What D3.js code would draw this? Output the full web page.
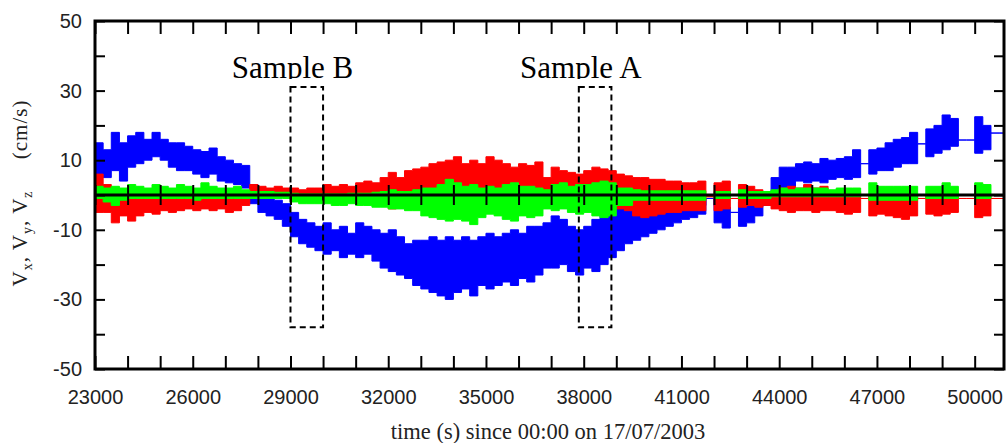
<!DOCTYPE html>
<html>
<head>
<meta charset="utf-8">
<script src="https://cdn.jsdelivr.net/npm/d3@7"></script>
<style>
  html, body { margin: 0; padding: 0; background: #fff; }
  svg { display: block; }
</style>
</head>
<body>
<svg id="chart" width="1007" height="443"></svg>
<script>
// ---- data (envelopes, 250 s bins) ----
const times = [
  23000,23250,23500,23750,24000,24250,24500,24750,25000,25250,25500,25750,26000,26250,26500,26750,
  27000,27250,27500,27750,28000,28250,28500,28750,29000,29250,29500,29750,30000,30250,30500,30750,
  31000,31250,31500,31750,32000,32250,32500,32750,33000,33250,33500,33750,34000,34250,34500,34750,
  35000,35250,35500,35750,36000,36250,36500,36750,37000,37250,37500,37750,38000,38250,38500,38750,
  39000,39250,39500,39750,40000,40250,40500,40750,41000,41250,41500,41750,42000,42250,42500,42750,
  43000,43250,43500,43750,44000,44250,44500,44750,45000,45250,45500,45750,46000,46250,46500,46750,
  47000,47250,47500,47750,48000,48250,48500,48750,49000,49250,49500,49750,50000,50250,50500,50750
];
const endTime = 50900;

// blue
const blueHi = [
  15,13,18,15,17,18,16,18,16,15,15,14,13,12.5,13.5,11,
  10,9,8.5,3,0,-1,-1.5,-2.5,-5,-7,-8,-9,-8,-10,-9,-11,
  -8,-9,-10,-11,-10,-12,-14,-13,-13,-12,-13,-12,-13,-12,-13,-12,
  -11,-12,-11,-10,-11,-9,-9,-8,-6,-7,-9,-10,-9,-7,-6,-4,
  -3.5,-3,-4,-4.5,-4,-4,-4,-3.5,-3.5,-3,-3,-1,-3,-3.5,-5,-2,
  -2.5,-2,1,5,8,8,9,9.5,9,10.5,10,10.5,11,13,9,13,
  13.5,15,16,16.5,18,14.7,19,20,23,22,15.8,15.8,22.5,20,17.8,17.8
];
const blueLo = [
  6,5,7,4,8,9,10,11,10,8,7,7,6,5,6,4,
  3.5,3,2,-2.5,-5,-6,-7,-9,-12,-14,-15,-16,-17,-16,-18,-17,
  -18,-17,-19,-21,-22,-23,-24,-26,-27,-28,-29,-30,-28,-27,-29,-26,
  -27,-26,-25,-26,-24,-25,-23,-21,-21,-20,-22,-23,-21,-22,-20,-18,
  -16,-14,-13,-12,-11,-10,-9,-8,-7,-6.5,-5.5,-1,-8,-9.5,-5,-9,
  -8,-6,-3,-1,1.5,2.5,4,3.5,4,3.5,4.5,5,4.5,5,9,6,
  7,7,8,9,9,14.7,11,12,13,14,15.8,15.8,12,13,17.8,17.8
];

// red
const redHi = [
  6,3,1,0.5,0,-0.5,-0.5,-0.5,-0.5,-0.5,-0.5,-0.5,-0.5,-0.5,-0.5,-0.5,
  -0.5,-0.5,1,3,2.5,2,2.5,2,2,1.5,2,2,3,2.5,3,2.5,
  3.5,4,3.5,5,6.5,5,7,7.5,8,9,9.5,10,11,9,10,9,
  11,10,9,8,9,8.5,9.5,5,8,7,6.5,6,7,8,7.5,7,
  6,5.5,5,5,4.5,4.5,4,4,3.5,3.5,4,-0.5,3.5,4,-1,3,
  2.5,1.5,1,1,2,2.5,2,3,2,2.5,1,1.5,1,1,-1,0,
  0,0,0,0,0,-1,0,0,0,0,-1,-1,0,0,-1,-1
];
const redLo = [
  -5,-5,-8,-6,-7.5,-6,-5,-5.5,-4.5,-5,-4.5,-4,-4.5,-4,-4.5,-4,
  -5,-4.5,-3,-1,-0.5,0,0,0,0,0,0,-0.5,-0.5,-0.5,-0.5,-0.5,
  -0.5,-0.5,-1,-1,-4,-1,-0.5,-0.5,-0.5,-0.5,-0.5,-0.5,-0.5,-1,-0.5,-0.5,
  -0.5,-0.5,-0.5,-0.5,-0.5,-0.5,-0.5,-0.5,-0.5,-0.5,-0.5,-0.5,-0.5,-0.5,-1,-2,
  -4,-4.5,-6,-6.5,-6,-5.5,-5,-5,-4.5,-4.5,-4.5,-0.5,-4.5,-4,-1,-3.5,
  -3,-3.5,-3,-4,-4.5,-5,-4.5,-4.5,-5,-4.5,-4.5,-5,-5.5,-5,-1,-6,
  -5.5,-6,-6.5,-7,-6,-1,-5.5,-6,-5.5,-5,-1,-1,-6.5,-6,-1,-1
];

// green
const greenHi = [
  2.5,2,2.5,2,3,2.5,2,3,2.5,2,3,2.5,2,3.5,2.5,2,
  2,2.5,1.5,1,1,1,0.8,0.8,0.5,0.3,0.3,0.3,0.3,0.3,0.3,0.5,
  0.5,0.5,0.8,1,1.5,1,1,1.5,2,2,3,4.5,3.5,2.5,3,2,
  2.5,2,3,3.5,2.5,2.5,2,1.5,3,3.5,2.5,3,3,3.5,4,3.5,
  2,2,1.5,1.2,1.2,1.2,1.2,1.2,1.2,1.2,1.2,0,1,1,0,1.5,
  1,1,1,1.5,2,1.5,2,2,2,2,1.5,2,2,2,0,3.5,
  2.5,2.5,2.5,2.5,2.5,0,2.5,2.5,3.5,2.5,0,0,3.5,3,0,0
];
const greenLo = [
  -1,-2,-3,-1.5,-1,-1,-1,-1,-1,-1,-1,-1,-1.5,-1,-1,-1,
  -1,-1,-1,-1,-1,-1,-1,-1,-2,-2.5,-2.5,-2.5,-2.5,-3,-3,-2.5,
  -3,-3,-3.5,-3.5,-4,-4,-4.5,-4.5,-6,-6.5,-7,-7.5,-7,-7.5,-8.5,-6.5,
  -5.5,-6,-7,-7.5,-6,-6.5,-6,-4,-4.5,-4,-5,-5.5,-5,-6,-6.5,-6,
  -3,-3,-1.5,-1.5,-1.5,-1.5,-1.5,-1.5,-1.5,-1.5,-1.5,0,-1,-1,0,-1,
  -1,-1,-1,-0.5,-0.5,-0.5,-0.5,-0.5,-0.5,-0.5,-0.5,-0.5,-0.5,-0.5,0,-1.5,
  -1.5,-1.5,-1.5,-1.5,-1.5,0,-1,-1,-1,-1,0,0,-1,-1,0,0
];

// axes / ticks / annotations
const xTicks = [23000,24000,25000,26000,27000,28000,29000,30000,31000,32000,33000,34000,35000,36000,37000,
  38000,39000,40000,41000,42000,43000,44000,45000,46000,47000,48000,49000,50000];
const xTickLabels = [23000,26000,29000,32000,35000,38000,41000,44000,47000,50000];
const yTicks = [-50,-40,-30,-20,-10,0,10,20,30,40,50];
const yTickLabels = [-50,-30,-10,10,30,50];
const samples = [
  {label: "Sample B", t0: 29000, t1: 30000, v0: -38, v1: 31},
  {label: "Sample A", t0: 37850, t1: 38850, v0: -38, v1: 31}
];
const xTitle = "time (s) since 00:00 on 17/07/2003";
const yTitleParts = [["V", false], ["x", true], [", V", false], ["y", true], [", V", false], ["z", true], ["     (cm/s)", false]];

// ---- drawing ----
const svg = d3.select("#chart");
const L = 95, R = 1004, T = 21, B = 369;
const x = d3.scaleLinear().domain([23000, endTime]).range([L, R]);
const y = d3.scaleLinear().domain([-50, 50]).range([B, T]);

const defs = svg.append("defs");
defs.append("clipPath").attr("id", "plotclip")
  .append("rect").attr("x", L).attr("y", T).attr("width", R - L).attr("height", B - T);
defs.append("clipPath").attr("id", "textclip")
  .append("rect").attr("x", 0).attr("y", 0).attr("width", 1007).attr("height", 79);

function series(hi, lo) {
  const pts = times.map((t, i) => ({t, hi: hi[i], lo: lo[i]}));
  const last = pts[pts.length - 1];
  pts.push({t: endTime, hi: last.hi, lo: last.lo});
  return pts;
}
const area = d3.area()
  .x(d => x(d.t)).y0(d => y(d.lo)).y1(d => y(d.hi))
  .curve(d3.curveStepAfter);

const plot = svg.append("g").attr("clip-path", "url(#plotclip)");
[[blueHi, blueLo, "#0000ff"], [redHi, redLo, "#ff0000"], [greenHi, greenLo, "#00ff00"]]
  .forEach(([hi, lo, c]) => {
    plot.append("path").datum(series(hi, lo))
      .attr("d", area).attr("fill", c).attr("stroke", c).attr("stroke-width", 1);
  });

// zero line with crossing ticks
const zeroAxis = d3.axisBottom(x).tickValues(xTicks).tickSizeInner(20).tickSizeOuter(0).tickFormat("");
const zg = svg.append("g").attr("transform", `translate(0,${y(0) - 10})`).call(zeroAxis);
zg.select(".domain").remove();
zg.selectAll(".tick line").attr("stroke", "#000").attr("stroke-width", 2);
svg.append("line").attr("x1", L).attr("x2", R).attr("y1", y(0)).attr("y2", y(0))
  .attr("stroke", "#000").attr("stroke-width", 3);

// axes
const fontTick = "'Liberation Sans', Arial, sans-serif";
const gl = svg.append("g").attr("transform", `translate(${L},0)`)
  .call(d3.axisLeft(y).tickValues(yTicks).tickSizeInner(-10).tickSizeOuter(0).tickPadding(13)
    .tickFormat(d => yTickLabels.includes(d) ? d : ""));
const gr = svg.append("g").attr("transform", `translate(${R},0)`)
  .call(d3.axisRight(y).tickValues(yTicks).tickSizeInner(-10).tickSizeOuter(0).tickFormat(""));
const gb = svg.append("g").attr("transform", `translate(0,${B})`)
  .call(d3.axisBottom(x).tickValues(xTicks).tickSizeInner(-13).tickSizeOuter(0).tickPadding(21)
    .tickFormat(d => xTickLabels.includes(d) ? d : ""));
const gt = svg.append("g").attr("transform", `translate(0,${T})`)
  .call(d3.axisTop(x).tickValues(xTicks).tickSizeInner(-13).tickSizeOuter(0).tickFormat(""));
[gl, gr, gb, gt].forEach(g => {
  g.select(".domain").remove();
  g.selectAll(".tick line").attr("stroke", "#000").attr("stroke-width", 2);
  g.selectAll(".tick text").attr("font-family", fontTick).attr("font-size", 20).attr("fill", "#222");
});

// frame
svg.append("rect").attr("x", L).attr("y", T).attr("width", R - L).attr("height", B - T)
  .attr("fill", "none").attr("stroke", "#000").attr("stroke-width", 3);

// sample boxes
const serif = "'Liberation Serif', 'Times New Roman', serif";
samples.forEach(s => {
  svg.append("rect")
    .attr("x", x(s.t0)).attr("y", y(s.v1))
    .attr("width", x(s.t1) - x(s.t0)).attr("height", y(s.v0) - y(s.v1))
    .attr("fill", "none").attr("stroke", "#000").attr("stroke-width", 2)
    .attr("stroke-dasharray", "6,4");
  svg.append("text").attr("clip-path", "url(#textclip)")
    .attr("x", x(s.t0) + 2).attr("y", 78)
    .attr("text-anchor", "middle").attr("font-family", serif).attr("font-size", 31)
    .attr("fill", "#000").text(s.label);
});

// x title
svg.append("text").attr("x", 548).attr("y", 439).attr("text-anchor", "middle")
  .attr("font-family", serif).attr("font-size", 22.5).attr("fill", "#222").text(xTitle);

// y title
const yt = svg.append("text").attr("transform", "translate(27,193) rotate(-90)")
  .attr("text-anchor", "middle").attr("font-family", serif).attr("font-size", 21).attr("fill", "#222")
  .attr("letter-spacing", 1).attr("xml:space", "preserve");
yTitleParts.forEach(([t, sub], i) => {
  const ts = yt.append("tspan").text(t);
  if (sub) ts.attr("font-size", 14).attr("dy", 5);
  else if (i > 0) ts.attr("dy", -5);
});
</script>
</body>
</html>
